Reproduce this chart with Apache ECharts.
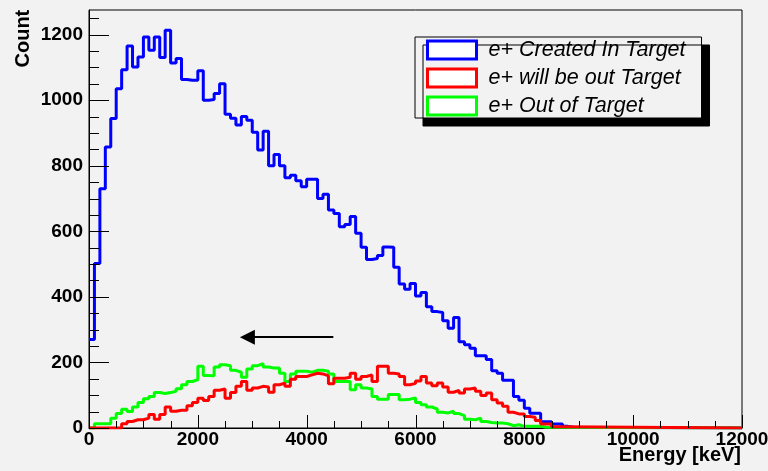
<!DOCTYPE html>
<html>
<head>
<meta charset="utf-8">
<title>e+ energy spectrum</title>
<script src="https://cdn.jsdelivr.net/npm/echarts@6/dist/echarts.min.js"></script>
<style>
  html, body { margin: 0; padding: 0; background: #f2f2f2; }
  #chart { width: 768px; height: 471px; }
</style>
</head>
<body>
<div id="chart"></div>
<script>
  // histogram bins are 100 keV wide, first bin starts at 0 keV
  const binWidth = 100;
  const energyMax = 12000;
  const countMax = 1275;
  const xTickStep = 2000;
  const yTickStep = 200;

  const seriesNames = ['e+ Created In Target', 'e+ will be out Target', 'e+ Out of Target'];

  // counts per bin
  const createdInTarget = [
    270, 502, 730, 857, 944, 1035, 1093, 1165, 1101, 1132,
    1193, 1152, 1193, 1130, 1213, 1113, 1127, 1063, 1061, 1061,
    1090, 1000, 1002, 1020, 1050, 957, 945, 924, 950, 939,
    902, 848, 905, 800, 834, 800, 763, 771, 754, 736,
    759, 759, 700, 713, 665, 654, 614, 621, 645, 594,
    551, 514, 517, 526, 552, 551, 490, 439, 423, 441,
    403, 413, 370, 355, 352, 327, 304, 337, 263, 254,
    243, 220, 220, 209, 175, 167, 146, 146, 96, 85,
    60, 45, 45, 19, 19, 12, 12, 5, 2
  ];
  const willBeOutTarget = [
    0, 0, 0, 0, 0, 0, 13, 20, 25, 25,
    30, 41, 27, 41, 64, 51, 54, 54, 68, 78,
    91, 84, 96, 115, 119, 91, 108, 127, 142, 115,
    122, 127, 125, 109, 132, 137, 127, 149, 157, 157,
    162, 167, 165, 159, 135, 152, 152, 155, 167, 149,
    157, 162, 142, 188, 188, 167, 165, 157, 132, 136,
    143, 157, 137, 129, 137, 125, 109, 115, 107, 119,
    122, 112, 99, 107, 86, 76, 66, 48, 43, 43,
    35, 33, 23, 12, 12, 4, 4
  ];
  const outOfTarget = [
    0, 13, 13, 13, 30, 44, 57, 50, 64, 78,
    89, 96, 108, 105, 108, 112, 120, 132, 142, 147,
    188, 160, 159, 186, 193, 190, 176, 170, 155, 180,
    190, 196, 186, 183, 183, 167, 142, 165, 173, 173,
    170, 176, 176, 173, 165, 142, 142, 142, 117, 132,
    122, 119, 96, 88, 88, 102, 102, 86, 88, 92,
    78, 71, 64, 58, 48, 46, 51, 44, 38, 27,
    25, 30, 20, 17, 15, 15, 13, 7, 10, 5,
    5, 5, 5, 2
  ];

  // tick positions (ROOT style: big ticks at labels, small ticks between)
  const xMajorTicks = [0, 2000, 4000, 6000, 8000, 10000, 12000];
  const xMinorTicks = [500, 1000, 1500, 2500, 3000, 3500, 4500, 5000, 5500, 6500, 7000, 7500,
    8500, 9000, 9500, 10500, 11000, 11500];
  const yMajorTicks = [0, 200, 400, 600, 800, 1000, 1200];
  const yMinorTicks = [50, 100, 150, 250, 300, 350, 450, 500, 550, 650, 700, 750,
    850, 900, 950, 1050, 1100, 1150, 1250];

  // arrow drawn on the plot: [energy, count] from tail to head
  const arrowFrom = [4490, 277];
  const arrowTo = [2910, 277];

  const colors = ['#0000ff', '#ff0000', '#00ff00'];
  const fontFamily = 'Liberation Sans, Arial, Helvetica, sans-serif';

  // turn bin contents into step points, empty bins run along 0 up to energyMax
  function toSteps(counts) {
    const pts = counts.map(function (c, i) { return [i * binWidth, c]; });
    pts.push([counts.length * binWidth, 0]);
    pts.push([energyMax, 0]);
    return pts;
  }

  function histSeries(name, counts, color) {
    return {
      name: name,
      type: 'line',
      step: 'end',
      symbol: 'none',
      data: toSteps(counts),
      lineStyle: { color: color, width: 3 },
      itemStyle: { color: color },
      animation: false
    };
  }

  function plainNumber(v) { return String(v); }

  // kind: 0 x big, 1 x small, 2 y big, 3 y small
  const tickData = []
    .concat(xMajorTicks.map(function (v) { return [v, 0, 0]; }))
    .concat(xMinorTicks.map(function (v) { return [v, 0, 1]; }))
    .concat(yMajorTicks.map(function (v) { return [0, v, 2]; }))
    .concat(yMinorTicks.map(function (v) { return [0, v, 3]; }));
  const tickLength = [13, 7, 20, 10];

  function renderTick(params, api) {
    const p = api.coord([api.value(0), api.value(1)]);
    const kind = api.value(2);
    const len = tickLength[kind];
    let shape;
    if (kind < 2) {
      const x = Math.round(p[0]) + 0.5;
      shape = { x1: x, y1: p[1], x2: x, y2: p[1] - len };
    } else {
      const y = Math.round(p[1]) + 0.5;
      shape = { x1: p[0], y1: y, x2: p[0] + len, y2: y };
    }
    return { type: 'line', shape: shape, style: { stroke: '#000', lineWidth: 1 } };
  }

  const chart = echarts.init(document.getElementById('chart'));

  const blue = histSeries(seriesNames[0], createdInTarget, colors[0]);
  blue.markLine = {
    silent: true,
    symbol: ['none', 'triangle'],
    symbolSize: [15, 15],
    label: { show: false },
    lineStyle: { color: '#000', width: 2, type: 'solid' },
    data: [[{ coord: arrowFrom }, { coord: arrowTo }]],
    animation: false
  };

  const option = {
    backgroundColor: '#f2f2f2',
    animation: false,
    grid: {
      left: 89, right: 26, top: 10, bottom: 43,
      outerBoundsMode: 'none',
      show: true, borderColor: '#000'
    },
    legend: {
      orient: 'vertical',
      left: 415, top: 37,
      padding: [2, 16, 1, 11],
      itemWidth: 49, itemHeight: 18, itemGap: 6,
      backgroundColor: '#f2f2f2',
      borderColor: '#000', borderWidth: 1,
      shadowColor: '#000', shadowBlur: 0, shadowOffsetX: 8, shadowOffsetY: 8,
      selectedMode: false,
      textStyle: {
        fontFamily: fontFamily, fontStyle: 'italic', fontSize: 21.5,
        color: '#000', padding: [0, 0, 0, 7]
      },
      data: seriesNames.map(function (n, i) {
        return { name: n, icon: 'rect', itemStyle: { color: '#fff', borderColor: colors[i], borderWidth: 3 } };
      })
    },
    graphic: [{
      type: 'text',
      x: 13, y: 67.5,
      rotation: Math.PI / 2,
      style: {
        text: 'Count',
        font: 'bold 20px ' + fontFamily,
        fill: '#000',
        align: 'left', verticalAlign: 'top'
      }
    }],
    xAxis: {
      type: 'value',
      min: 0, max: energyMax, interval: xTickStep,
      name: 'Energy [keV]',
      nameLocation: 'end',
      nameGap: -1,
      nameMoveOverlap: false,
      nameTextStyle: {
        fontFamily: fontFamily, fontWeight: 'bold', fontSize: 20, color: '#000',
        align: 'right', verticalAlign: 'top', padding: [17, 0, 0, 0]
      },
      axisLine: { onZero: false, lineStyle: { color: '#000' } },
      axisTick: { show: false },
      splitLine: { show: false },
      axisLabel: { fontFamily: fontFamily, fontWeight: 'bold', fontSize: 19, color: '#000', margin: 2, formatter: plainNumber }
    },
    yAxis: {
      type: 'value',
      min: 0, max: countMax, interval: yTickStep,
      axisLine: { show: true, onZero: false, lineStyle: { color: '#000' } },
      axisTick: { show: false },
      splitLine: { show: false },
      axisLabel: { fontFamily: fontFamily, fontWeight: 'bold', fontSize: 19, color: '#000', margin: 6, showMaxLabel: false, formatter: plainNumber }
    },
    series: [
      blue,
      histSeries(seriesNames[2], outOfTarget, colors[2]),
      histSeries(seriesNames[1], willBeOutTarget, colors[1]),
      {
        name: 'ticks',
        type: 'custom',
        silent: true,
        animation: false,
        clip: false,
        z: 10,
        dimensions: ['x', 'y', 'kind'],
        encode: { x: 'x', y: 'y' },
        data: tickData,
        renderItem: renderTick
      }
    ]
  };

  chart.setOption(option);
</script>
</body>
</html>
